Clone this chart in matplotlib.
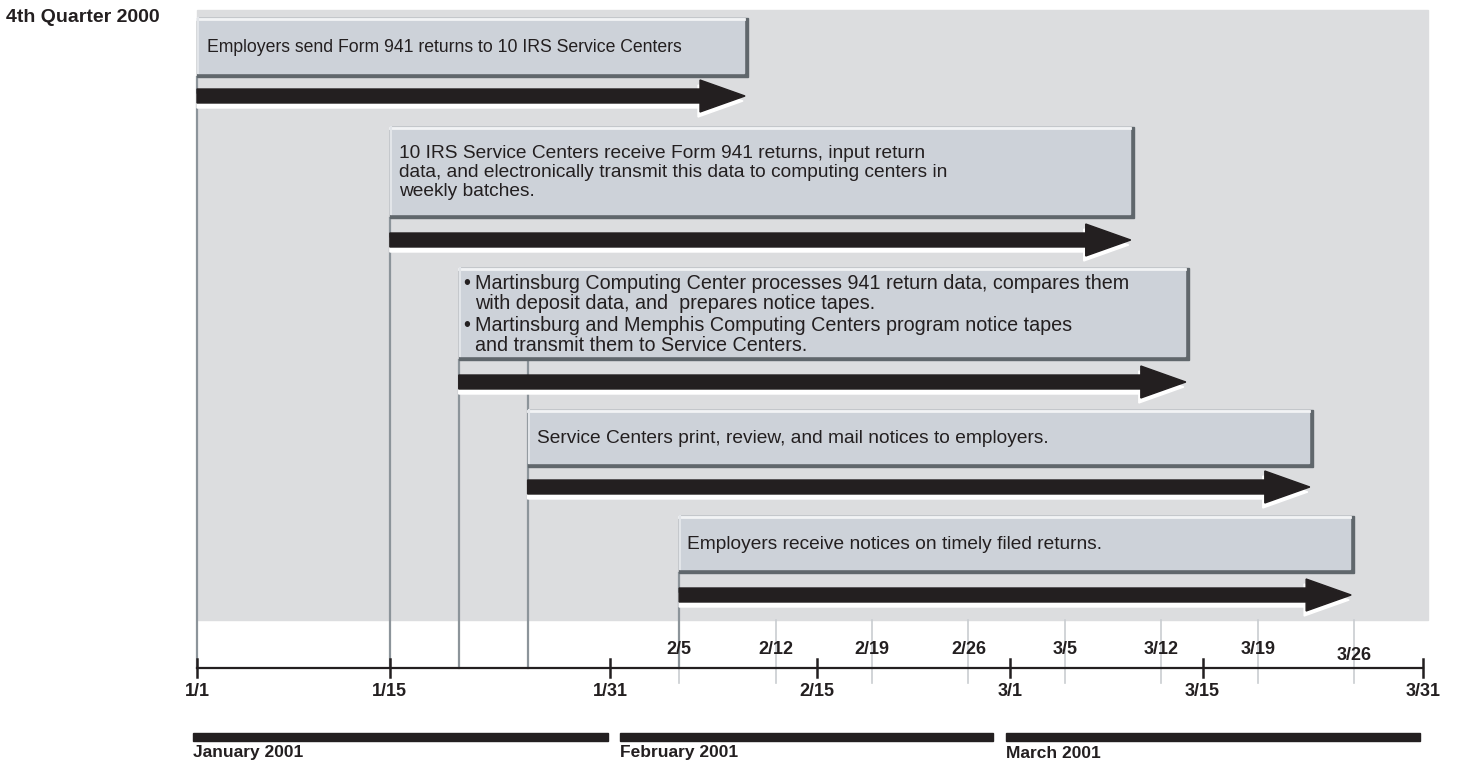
import pandas as pd
import matplotlib
matplotlib.use("Agg")
import matplotlib.pyplot as plt
from matplotlib.patches import Rectangle, Polygon

plt.rcParams['font.family'] = ['Liberation Sans', 'DejaVu Sans']

# ---- data ----
task_text = [
    "Employers send Form 941 returns to 10 IRS Service Centers",
    "10 IRS Service Centers receive Form 941 returns, input return\n"
    "data, and electronically transmit this data to computing centers in\n"
    "weekly batches.",
    None,  # bullets, see below
    "Service Centers print, review, and mail notices to employers.",
    "Employers receive notices on timely filed returns.",
]
task3_bullets = [
    "Martinsburg Computing Center processes 941 return data, compares them\n"
    "with deposit data, and  prepares notice tapes.",
    "Martinsburg and Memphis Computing Centers program notice tapes\n"
    "and transmit them to Service Centers.",
]
task_start = ['1/1', '1/15', '1/20', '1/25', '2/5']
task_end = ['2/10', '3/10', '3/14', '3/23', '3/26']

major_ticks = ['1/1', '1/15', '1/31', '2/15', '3/1', '3/15', '3/31']
week_ticks = ['2/5', '2/12', '2/19', '2/26', '3/5', '3/12', '3/19', '3/26']

months = ['January 2001', 'February 2001', 'March 2001']
month_first = ['1/1', '2/1', '3/1']
month_last = ['1/31', '2/28', '3/31']

origin = pd.Timestamp('2001-01-01')


def day(s):
    return (pd.to_datetime('2001/' + s) - origin).days


# ---- layout (pixel rows, y grows downward) ----
W, H = 1459, 768
X0_PX = 197
PX = (1423 - 197) / 89.0      # pixels per day
box_top = [18, 127, 268, 410, 516]
box_bot = [77, 218, 360, 467, 573]
arrow_y = [96, 240, 382, 487, 595]
line_top = [77, 218, 360, 360, 573]
text_pad = [10, 9, 0, 9, 8]
text_size = [12.7, 13.8, 14.2, 13.8, 13.8]
bullet_top = [274, 316]
axis_y = 668

BG = '#dcdddf'
BOX = '#cdd2d9'
SHADOW = '#60676c'
VLINE = '#8c949a'
WEEK = '#c9cdd1'
INK = '#231f20'


def px(n):
    return n / PX


fig = plt.figure(figsize=(W / 100, H / 100), dpi=100)
ax = fig.add_axes([0, 0, 1, 1])
ax.set_xlim(-px(X0_PX), px(W - X0_PX))
ax.set_ylim(H, 0)
ax.axis('off')

# grey backdrop
ax.add_patch(Rectangle((0, 10), px(1428 - X0_PX), 610, color=BG, zorder=0))

# weekly marker lines
for t in week_ticks:
    d = day(t)
    ax.plot([d, d], [620, 683], color=WEEK, lw=1.2, zorder=1)
    ax.text(d, 650 if t != '3/26' else 655, t, ha='center', va='center',
            fontsize=13, fontweight='bold', color=INK, zorder=5)

# start lines
for i, s in enumerate(task_start):
    d = day(s)
    ax.plot([d, d], [line_top[i], axis_y], color=VLINE, lw=1.6, zorder=1)

# boxes and arrows
for i in range(len(task_start)):
    a, b = day(task_start[i]), day(task_end[i])
    t, bt = box_top[i], box_bot[i]
    ax.add_patch(Rectangle((a, t), b - a, bt - t, color=SHADOW, zorder=2))
    ax.add_patch(Rectangle((a, t), b - a - px(4), bt - t - 4, color=BOX, zorder=3))
    ax.plot([a, b - px(4)], [t + 1, t + 1], color='#f2f3f5', lw=2, zorder=4)
    ax.plot([a + px(1), a + px(1)], [t, bt - 4], color='#e2e5e9', lw=1.5, zorder=4)

    tip = b - px(3)
    hl = px(45)
    yc = arrow_y[i]
    pts = [(a, yc - 7), (tip - hl, yc - 7), (tip - hl, yc - 16), (tip, yc),
           (tip - hl, yc + 16), (tip - hl, yc + 7), (a, yc + 7)]
    shadow = [(x - px(2) if j not in (0, 6) else x, y + 5) for j, (x, y) in enumerate(pts)]
    ax.add_patch(Polygon(shadow, closed=True, color='white', zorder=2))
    ax.add_patch(Polygon(pts, closed=True, color=INK, zorder=3))

    if task_text[i] is not None:
        ax.text(a + px(text_pad[i]), (t + bt) / 2, task_text[i], ha='left', va='center',
                fontsize=text_size[i], color=INK, linespacing=1.18, zorder=5)

# bullets for task 3
a3 = day(task_start[2])
for txt, yt in zip(task3_bullets, bullet_top):
    ax.text(a3 + px(5), yt, '\u2022', ha='left', va='top',
            fontsize=text_size[2], color=INK, zorder=5)
    ax.text(a3 + px(16), yt, txt, ha='left', va='top',
            fontsize=text_size[2], color=INK, linespacing=1.05, zorder=5)

# time axis
ax.plot([0, day('3/31')], [axis_y, axis_y], color=INK, lw=1.6, zorder=4)
for t in major_ticks:
    d = day(t)
    ax.plot([d, d], [axis_y - 9, axis_y + 9], color=INK, lw=1.8, zorder=4)
    ax.text(d, 692, t, ha='center', va='center', fontsize=13,
            fontweight='bold', color=INK)

# month bars
for name, f, l in zip(months, month_first, month_last):
    x0 = day(f) - 0.3
    x1 = day(l) - 0.2
    ax.add_patch(Rectangle((x0, 733), x1 - x0, 8, color=INK, zorder=4))
    ax.text(x0, 753, name, ha='left', va='center', fontsize=12.5,
            fontweight='bold', color=INK)

fig.text(6 / W, 1 - 18 / H, '4th Quarter 2000', ha='left', va='center',
         fontsize=14, fontweight='bold', color=INK)

fig.savefig('out.png', dpi=100)
